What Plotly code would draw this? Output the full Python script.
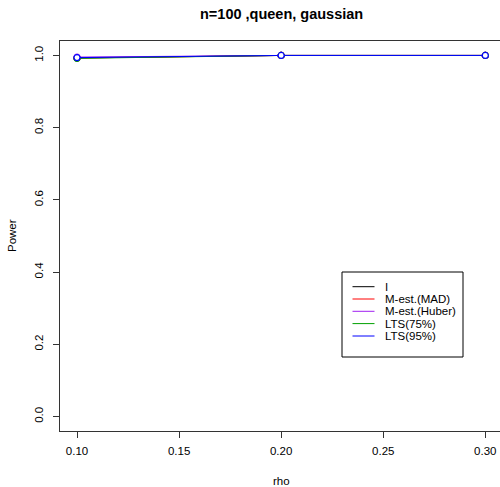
import plotly.graph_objects as go

rho = [0.10, 0.20, 0.30]
series_names = ["I", "M-est.(MAD)", "M-est.(Huber)", "LTS(75%)", "LTS(95%)"]
power_I = [0.993, 1.000, 1.000]
power_MAD = [0.993, 1.000, 1.000]
power_Huber = [0.9955, 1.000, 1.000]
power_LTS75 = [0.992, 1.000, 1.000]
power_LTS95 = [0.994, 1.000, 1.000]
series_values = [power_I, power_MAD, power_Huber, power_LTS75, power_LTS95]
series_colors = ["#000000", "#FF0000", "#A020F0", "#00A000", "#0000FF"]

x_ticks = [0.10, 0.15, 0.20, 0.25, 0.30]
y_ticks = [0.0, 0.2, 0.4, 0.6, 0.8, 1.0]

FONT = "Liberation Sans, Arial, sans-serif"

fig = go.Figure()
for name, vals, col in zip(series_names, series_values, series_colors):
    fig.add_trace(go.Scatter(
        x=rho, y=vals, name=name, mode="lines+markers",
        line=dict(color=col, width=1),
        marker=dict(symbol="circle", size=6, color="white",
                    line=dict(color=col, width=1.2)),
        showlegend=False,
    ))

# Legend (R-style box)
lx0, lx1 = 342, 463
ly0, ly1 = 272, 357
W, H = 500, 487
ml, mr, mt, mb = 60, 0, 41, 56
pw, ph = W - ml - mr, H - mt - mb

def px(xp):
    return (xp - ml) / pw

def py(yp):
    return 1 - (yp - mt) / ph

shapes = [dict(type="rect", xref="paper", yref="paper",
               x0=px(lx0), x1=px(lx1), y0=py(ly1), y1=py(ly0),
               line=dict(color="#000000", width=1), fillcolor="white", layer="above")]
annotations = []
row_y = [286.7, 299.0, 311.3, 323.6, 336.0]
for name, col, yy in zip(series_names, series_colors, row_y):
    shapes.append(dict(type="line", xref="paper", yref="paper",
                       x0=px(352.5), x1=px(374.5), y0=py(yy), y1=py(yy),
                       line=dict(color=col, width=1), layer="above"))
    annotations.append(dict(xref="paper", yref="paper", x=px(383), y=py(yy),
                            text=name, showarrow=False, xanchor="left", yanchor="middle",
                            font=dict(family=FONT, size=11.5, color="#000000")))

annotations.append(dict(xref="paper", yref="paper", x=px(281), y=py(14),
                        text="<b>n=100 ,queen, gaussian</b>", showarrow=False,
                        xanchor="center", yanchor="middle",
                        font=dict(family=FONT, size=14.5, color="#000000")))
annotations.append(dict(xref="paper", yref="paper", x=px(281), y=py(481),
                        text="rho", showarrow=False, xanchor="center", yanchor="middle",
                        font=dict(family=FONT, size=11.5, color="#000000")))
annotations.append(dict(xref="paper", yref="paper", x=px(12), y=py(236),
                        text="Power", showarrow=False, textangle=-90,
                        xanchor="center", yanchor="middle",
                        font=dict(family=FONT, size=11.5, color="#000000")))

fig.update_layout(
    width=W, height=H,
    margin=dict(l=ml, r=mr, t=mt, b=mb, pad=0),
    paper_bgcolor="white", plot_bgcolor="white",
    font=dict(family=FONT, size=12, color="#000000"),
    shapes=shapes, annotations=annotations,
    xaxis=dict(range=[0.09167, 0.30720], tickvals=x_ticks, tickformat=".2f",
               showgrid=False, zeroline=False, showline=True, mirror=True,
               linecolor="#333333", linewidth=1, ticks="outside", ticklen=6,
               tickcolor="#333333", ticklabelstandoff=3,
               tickfont=dict(family=FONT, size=11.5, color="#000000")),
    yaxis=dict(range=[-0.04, 1.04], tickvals=y_ticks, tickformat=".1f",
               showgrid=False, zeroline=False, showline=True, mirror=False,
               linecolor="#333333", linewidth=1, ticks="outside", ticklen=6,
               tickcolor="#333333", tickangle=-90, ticklabelstandoff=5,
               tickfont=dict(family=FONT, size=11.5, color="#000000")),
)

fig.write_html(
    "out.html",
    config={"displayModeBar": False},
    post_script="document.documentElement.style.margin='0';document.body.style.margin='0';"
                "document.body.style.overflow='hidden';",
)
